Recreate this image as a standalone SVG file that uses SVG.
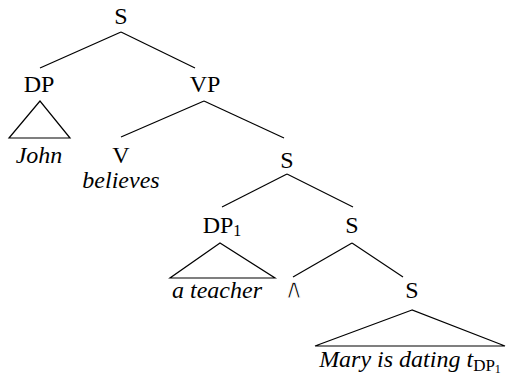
<svg xmlns="http://www.w3.org/2000/svg" width="506" height="379" viewBox="0 0 506 379">
<style>
text{font-family:"Liberation Serif","Times New Roman",serif;font-size:24px;fill:#000;text-anchor:middle}
.i{font-style:italic}
.w{font-family:"DejaVu Serif",serif;font-size:27px;font-weight:normal;stroke:#fff;stroke-width:1.1;paint-order:fill}
line,polygon{stroke:#000;stroke-width:1.2;fill:none}
</style>
<rect width="506" height="379" fill="#fff"/>
<g id="connectors">
<line x1="121" y1="32" x2="40" y2="68"/>
<line x1="121" y1="32" x2="195" y2="68"/>
<line x1="204" y1="101" x2="121" y2="137"/>
<line x1="204" y1="101" x2="284" y2="138"/>
<line x1="287" y1="174" x2="222" y2="207"/>
<line x1="287" y1="174" x2="353" y2="207"/>
<line x1="352" y1="243" x2="293" y2="277"/>
<line x1="352" y1="243" x2="403" y2="277"/>
</g>
<g id="n-s1"><text x="121" y="24">S</text></g>
<g id="n-dp"><text x="39" y="92">DP</text><polygon points="40,101 9,138 70,138"/><text class="i" x="39" y="163">John</text></g>
<g id="n-vp"><text x="205" y="92">VP</text></g>
<g id="n-v"><text x="121" y="163">V</text><text class="i" x="121" y="188">believes</text></g>
<g id="n-s2"><text x="287" y="168">S</text></g>
<g id="n-dp1"><text x="222" y="233">DP<tspan font-size="16" dy="3">1</tspan></text><polygon points="220,243 170,278 275,278"/><text class="i" x="217" y="298">a teacher</text></g>
<g id="n-s3"><text x="352" y="233">S</text></g>
<g id="n-lambda"><text class="w" x="294" y="298">∧</text></g>
<g id="n-s4"><text x="412" y="298">S</text><polygon points="412,310 315,346 505,346"/><text class="i" x="410" y="367">Mary is dating t<tspan font-style="normal" font-size="17" dy="4">DP</tspan><tspan font-style="normal" font-size="12" dy="2">1</tspan></text></g>
</svg>
